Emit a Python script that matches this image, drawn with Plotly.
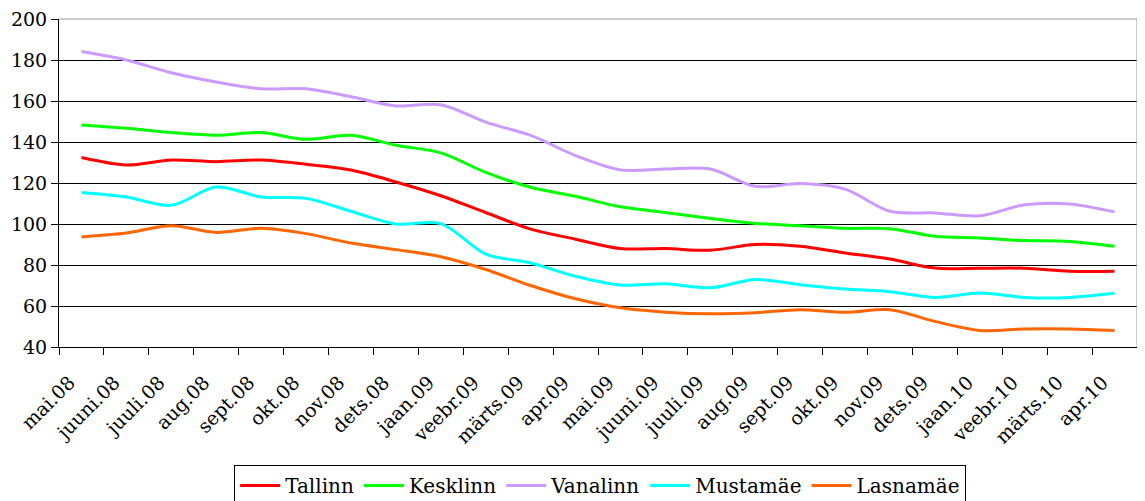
import plotly.graph_objects as go

months = ["mai.08", "juuni.08", "juuli.08", "aug.08", "sept.08", "okt.08", "nov.08", "dets.08",
          "jaan.09", "veebr.09", "märts.09", "apr.09", "mai.09", "juuni.09", "juuli.09", "aug.09",
          "sept.09", "okt.09", "nov.09", "dets.09", "jaan.10", "veebr.10", "märts.10", "apr.10"]

tallinn = [132.4, 128.8, 131.2, 130.4, 131.2, 129.1, 126.3, 120.5, 113.8, 105.6, 97.5, 92.6,
           88.0, 88.0, 87.2, 90.0, 89.1, 85.9, 82.9, 78.5, 78.4, 78.4, 76.9, 76.9]
kesklinn = [148.3, 146.7, 144.6, 143.3, 144.6, 141.3, 143.3, 138.4, 134.7, 125.2, 117.9, 113.5,
            108.4, 105.6, 102.7, 100.3, 99.2, 97.9, 97.7, 94.0, 93.2, 91.9, 91.5, 89.1]
vanalinn = [184.1, 180.0, 173.8, 169.3, 166.0, 166.0, 162.1, 157.6, 158.2, 149.7, 143.2, 133.4,
            126.4, 126.8, 126.8, 118.4, 119.7, 117.0, 106.2, 105.4, 104.0, 109.4, 109.8, 105.9]
mustamae = [115.4, 113.2, 109.1, 118.0, 113.2, 112.5, 106.2, 100.0, 100.2, 85.3, 81.0, 74.5,
            70.2, 70.8, 68.9, 72.9, 70.4, 68.3, 67.0, 64.2, 66.3, 64.2, 64.2, 66.2]
lasnamae = [93.7, 95.6, 99.2, 95.9, 97.9, 95.3, 90.7, 87.5, 84.0, 77.8, 70.0, 63.5,
            59.1, 57.0, 56.2, 56.7, 58.2, 56.9, 58.2, 52.5, 48.1, 48.8, 48.8, 48.0]

series = [
    ("Tallinn", tallinn, "#FF0000"),
    ("Kesklinn", kesklinn, "#00FF00"),
    ("Vanalinn", vanalinn, "#CC99FF"),
    ("Mustamäe", mustamae, "#00FFFF"),
    ("Lasnamäe", lasnamae, "#FF6600"),
]

FONT = "DejaVu Serif"

fig = go.Figure()
for name, vals, col in series:
    fig.add_trace(go.Scatter(
        x=months, y=vals, name=name, mode="lines",
        line=dict(color=col, width=3, shape="spline", smoothing=0.9),
    ))

# the page body has an 8px margin, so the figure is 8px smaller than the window
fig.update_layout(
    width=1137, height=493,
    margin=dict(l=51, r=8, t=11, b=154, autoexpand=False),
    plot_bgcolor="white", paper_bgcolor="white",
    font=dict(family=FONT, size=20, color="black"),
    showlegend=True,
    legend=dict(
        orientation="h", x=0.502, xanchor="center", y=-0.36, yanchor="top",
        bordercolor="black", borderwidth=1, font=dict(family=FONT, size=20),
        itemwidth=40, tracegroupgap=0,
    ),
)

fig.update_xaxes(
    type="category", range=[-0.5, 23.5], tickangle=-45, automargin=False,
    tickson="boundaries", ticks="outside", ticklen=7, tickcolor="black",
    showline=True, linecolor="black", linewidth=1, mirror=False,
    showgrid=False, tickfont=dict(family=FONT, size=19),
    ticklabelstandoff=16, ticklabelshift=-12, ticklabeloverflow="allow",
)
fig.update_yaxes(
    range=[40, 200], dtick=20, tick0=40, automargin=False,
    ticks="outside", ticklen=7, tickcolor="black",
    showline=True, linecolor="black", linewidth=1,
    showgrid=True, gridcolor="black", gridwidth=1,
    tickfont=dict(family=FONT, size=19), zeroline=False,
    ticklabeloverflow="allow",
)

# plot-area border (top and right) in grey, like the original
fig.add_shape(type="line", xref="paper", yref="paper", x0=0, x1=1, y0=1, y1=1,
              line=dict(color="#999999", width=1))
fig.add_shape(type="line", xref="paper", yref="paper", x0=1, x1=1, y0=0, y1=1,
              line=dict(color="#999999", width=1))

fig.write_html("out.html")
